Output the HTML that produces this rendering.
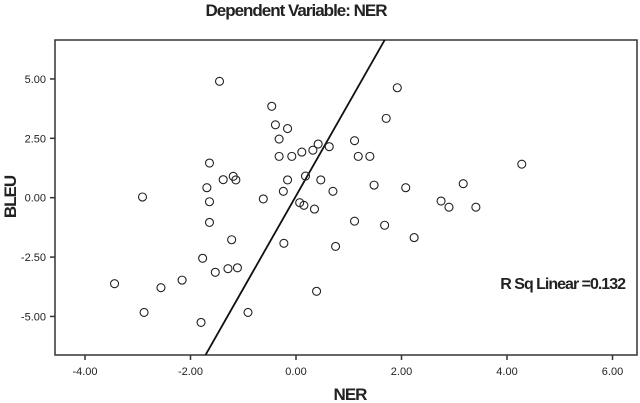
<!DOCTYPE html>
<html><head><meta charset="utf-8"><style>
body{margin:0;background:#fff;}
svg{display:block;font-family:"Liberation Sans",sans-serif;}
</style></head><body>
<svg id="chart" width="640" height="403" viewBox="0 0 640 403">
<defs><clipPath id="pc"><rect x="55" y="40" width="582" height="315"/></clipPath></defs>
<text x="296" y="16" text-anchor="middle" font-size="17" font-weight="bold" fill="#222" letter-spacing="-1">Dependent Variable: NER</text>
<text transform="translate(16,197) rotate(-90)" text-anchor="middle" font-size="17" font-weight="bold" fill="#222" letter-spacing="-1">BLEU</text>
<text x="350" y="400" text-anchor="middle" font-size="17" font-weight="bold" fill="#222" letter-spacing="-1">NER</text>
<rect x="55" y="40" width="582" height="315" fill="none" stroke="#333" stroke-width="1.5"/>
<g id="ticks"></g>
<g id="marks" clip-path="url(#pc)"></g>
<text x="625" y="289" text-anchor="end" font-size="16" font-weight="bold" fill="#222" letter-spacing="-1">R Sq Linear =0.132</text>
</svg>
<script>
const xTicks=[-4,-2,0,2,4,6];
const yTicks=[5,2.5,0,-2.5,-5];
const nerValues=[-1.45,-0.46,-0.39,-0.16,-0.32,-0.32,-0.08,0.11,0.32,0.42,0.63,-1.64,-1.38,-1.19,-1.14,-1.69,-2.91,-1.64,-0.62,-0.16,0.18,0.47,-0.24,0.70,0.07,0.15,0.35,-1.64,-1.22,-0.23,0.75,-1.77,-1.53,-1.29,-1.11,-2.16,-3.44,-2.56,0.39,-2.88,-0.91,-1.80,1.92,1.71,1.11,1.18,1.40,4.28,1.48,2.08,3.17,2.75,2.90,3.41,1.11,1.68,2.24];
const bleuValues=[4.90,3.85,3.07,2.91,2.47,1.74,1.74,1.92,2.00,2.26,2.15,1.46,0.76,0.90,0.75,0.42,0.03,-0.17,-0.05,0.75,0.91,0.75,0.27,0.27,-0.21,-0.32,-0.48,-1.04,-1.77,-1.92,-2.05,-2.55,-3.14,-2.99,-2.95,-3.47,-3.62,-3.79,-3.94,-4.83,-4.83,-5.25,4.63,3.34,2.40,1.74,1.74,1.41,0.53,0.42,0.59,-0.14,-0.40,-0.40,-0.99,-1.16,-1.68];
const NS='http://www.w3.org/2000/svg';
const sx=v=>296+v*52.75;
const sy=v=>197.7-v*23.75;
const tk=document.getElementById('ticks'), mk=document.getElementById('marks');
function mkEl(t,a){const e=document.createElementNS(NS,t);for(const k in a)e.setAttribute(k,a[k]);return e;}
xTicks.forEach(v=>{
  const l=mkEl('line',{x1:sx(v),x2:sx(v),y1:355,y2:360,stroke:'#333','stroke-width':1.5});
  
  
  tk.appendChild(l);
  const t=mkEl('text',{x:sx(v),y:375,'text-anchor':'middle','font-size':11,fill:'#222'});
  
  
  t.textContent=v.toFixed(2);tk.appendChild(t);
});
yTicks.forEach(v=>{
  const l=mkEl('line',{x1:50,x2:55,y1:sy(v),y2:sy(v),stroke:'#333','stroke-width':1.5});
  
  
  tk.appendChild(l);
  const t=mkEl('text',{x:46,y:sy(v)+4,'text-anchor':'end','font-size':11,fill:'#222'});
  
  
  t.textContent=v.toFixed(2);tk.appendChild(t);
});
const n=nerValues.length;
const mx=nerValues.reduce((a,b)=>a+b,0)/n, my=bleuValues.reduce((a,b)=>a+b,0)/n;
let cxy=0,cyy=0;for(let i=0;i<n;i++){cxy+=(nerValues[i]-mx)*(bleuValues[i]-my);cyy+=(bleuValues[i]-my)**2;}
const b=cxy/cyy, a=mx-b*my;
const yA=-7, yB=7;
const fl=mkEl('line',{x1:sx(a+b*yA),y1:sy(yA),x2:sx(a+b*yB),y2:sy(yB),stroke:'#111','stroke-width':1.8});


mk.appendChild(fl);
for(let i=0;i<n;i++){
  const c=mkEl('circle',{cx:sx(nerValues[i]),cy:sy(bleuValues[i]),r:4,fill:'none',stroke:'#222','stroke-width':1.1});
  
  
  mk.appendChild(c);
}
</script>
</body></html>
